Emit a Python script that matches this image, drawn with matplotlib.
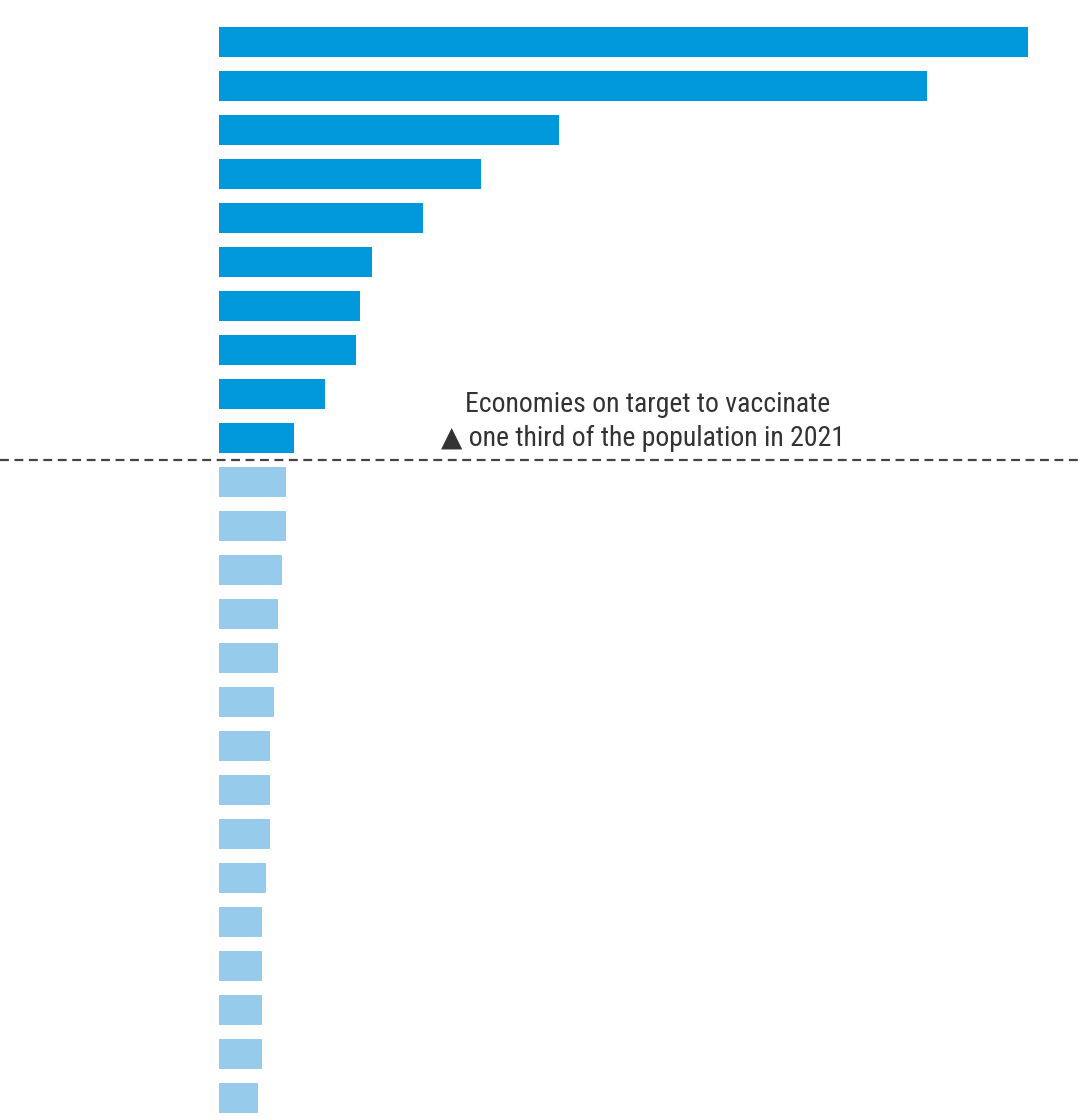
import matplotlib
matplotlib.use("Agg")
import matplotlib.pyplot as plt

# bar lengths (arbitrary units, one per pixel)
on_target = [809, 708, 340, 262, 204, 153, 141, 137, 106, 75]
off_target = [67, 67, 63, 59, 59, 55, 51, 51, 51, 47, 43, 43, 43, 43, 39]

note_line1 = "Economies on target to vaccinate"
note_line2 = "\u25b2 one third of the population in 2021"

values = on_target + off_target
colors = ["#0098db"] * len(on_target) + ["#96cbec"] * len(off_target)
positions = list(range(len(values)))

plt.rcParams['font.family'] = ['Roboto Condensed', 'DejaVu Sans']

fig = plt.figure(figsize=(10.8, 11.2), dpi=100)
ax = fig.add_axes([0, 0, 1, 1])

ax.barh(positions, values, height=0.68, color=colors, left=0)

# split line between the two groups
ax.axhline(len(on_target) - 0.5, color="#444444", lw=1.6, ls=(0, (4, 2.5)))

ax.text(429, 8.23, note_line1, ha="center", va="center", fontsize=20, color="#333333")
ax.text(424, 9.02, note_line2, ha="center", va="center", fontsize=20, color="#333333")

ax.set_xlim(-219, 861)
ax.set_ylim(24.5, -42 / 44)
ax.axis("off")

fig.savefig("out.png", dpi=100, facecolor="white")
